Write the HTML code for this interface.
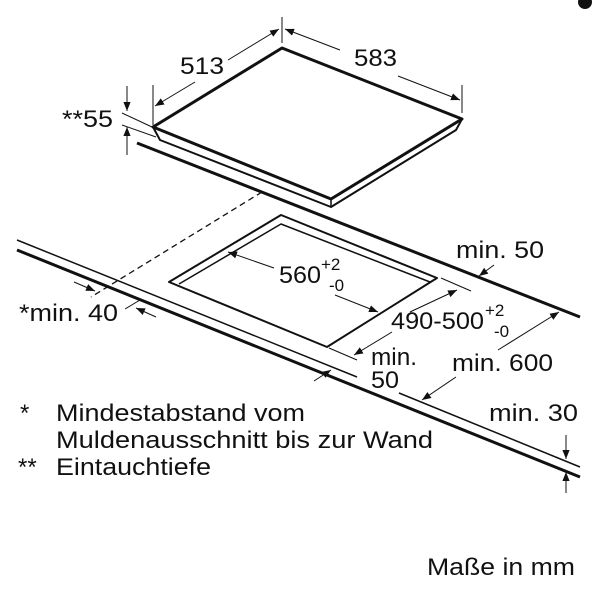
<!DOCTYPE html>
<html><head><meta charset="utf-8"><style>
html,body{margin:0;padding:0;background:#fff;}
svg{display:block;}
text{font-family:"Liberation Sans",sans-serif;fill:#111;}
</style></head><body>
<svg width="594" height="593" viewBox="0 0 594 593">
<defs>
<marker id="ar" viewBox="0 0 10 10" refX="10" refY="5" markerWidth="9" markerHeight="9" orient="auto-start-reverse" markerUnits="userSpaceOnUse"><path d="M0,1 L10,5 L0,9 z" fill="#111"/></marker>
</defs>
<g stroke="#111" fill="none" stroke-linejoin="round">
<g>
<polygon points="282,48 462,119 331,199 153,127" stroke-width="3"/>
<polyline points="153,127 160,140 331,207 456,130 462,119" stroke-width="2"/>
<line x1="331" y1="199" x2="331" y2="207" stroke-width="1.5"/>
</g>
<line x1="137" y1="143" x2="580" y2="317" stroke-width="3"/>
<line x1="262" y1="192" x2="91" y2="297" stroke-width="1.3" stroke-dasharray="6,4"/>
<g>
<polygon points="281,215 437,278 327,347 169,282" stroke-width="2"/>
<polyline points="179,284 281,224 430,282" stroke-width="1.5"/>
</g>
<line x1="17" y1="240" x2="357" y2="377" stroke-width="1.5"/>
<line x1="399" y1="393" x2="580" y2="467" stroke-width="1.5"/>
<line x1="17" y1="250" x2="580" y2="477" stroke-width="3"/>
<line x1="282" y1="17" x2="282" y2="43" stroke-width="1"/>
<line x1="153" y1="85" x2="153" y2="125" stroke-width="1"/>
<line x1="462" y1="85" x2="462" y2="113" stroke-width="1"/>
<line x1="228" y1="60" x2="279" y2="29" stroke-width="1" marker-end="url(#ar)"/>
<line x1="195" y1="82" x2="155" y2="106" stroke-width="1" marker-end="url(#ar)"/>
<line x1="340" y1="50" x2="285" y2="29" stroke-width="1" marker-end="url(#ar)"/>
<line x1="398" y1="76" x2="460" y2="100" stroke-width="1" marker-end="url(#ar)"/>
<line x1="122" y1="113" x2="152" y2="127" stroke-width="1"/>
<line x1="122" y1="125" x2="156" y2="137" stroke-width="1"/>
<line x1="127" y1="86" x2="127" y2="111" stroke-width="1" marker-end="url(#ar)"/>
<line x1="127" y1="155" x2="127" y2="127" stroke-width="1" marker-end="url(#ar)"/>
<line x1="74" y1="282" x2="95" y2="291" stroke-width="1" marker-end="url(#ar)"/>
<line x1="156" y1="317" x2="136" y2="308" stroke-width="1" marker-end="url(#ar)"/>
<line x1="125" y1="309" x2="140" y2="300" stroke-width="1"/>
<line x1="274" y1="268" x2="228" y2="252" stroke-width="1" marker-end="url(#ar)"/>
<line x1="335" y1="295" x2="378" y2="312" stroke-width="1" marker-end="url(#ar)"/>
<line x1="441" y1="278" x2="471" y2="291" stroke-width="1"/>
<line x1="329" y1="348" x2="357" y2="360" stroke-width="1"/>
<line x1="410" y1="312" x2="457" y2="290" stroke-width="1" marker-end="url(#ar)"/>
<line x1="392" y1="332" x2="354" y2="355" stroke-width="1" marker-end="url(#ar)"/>
<line x1="494" y1="265" x2="479" y2="276" stroke-width="1" marker-end="url(#ar)"/>
<line x1="314" y1="381" x2="331" y2="370" stroke-width="1" marker-end="url(#ar)"/>
<line x1="498" y1="350" x2="559" y2="312" stroke-width="1" marker-end="url(#ar)"/>
<line x1="456" y1="377" x2="422" y2="400" stroke-width="1" marker-end="url(#ar)"/>
<line x1="566" y1="435" x2="566" y2="459" stroke-width="1" marker-end="url(#ar)"/>
<line x1="566" y1="493" x2="566" y2="472" stroke-width="1" marker-end="url(#ar)"/>
</g>
<circle cx="585" cy="2" r="8" fill="#111" stroke="#fff" stroke-width="2"/>
<g font-size="24" lengthAdjust="spacingAndGlyphs">
<text x="180" y="74" textLength="44" lengthAdjust="spacingAndGlyphs">513</text>
<text x="354" y="66" textLength="43" lengthAdjust="spacingAndGlyphs">583</text>
<text x="62" y="127" textLength="51" lengthAdjust="spacingAndGlyphs">**55</text>
<text x="279" y="283" textLength="42" lengthAdjust="spacingAndGlyphs">560</text>
<text x="321" y="270" font-size="17">+2</text>
<text x="329" y="291" font-size="17">-0</text>
<text x="391" y="329" textLength="93" lengthAdjust="spacingAndGlyphs">490-500</text>
<text x="485" y="316" font-size="17">+2</text>
<text x="494" y="337" font-size="17">-0</text>
<text x="456" y="258" textLength="88" lengthAdjust="spacingAndGlyphs">min. 50</text>
<text x="19" y="321" textLength="99" lengthAdjust="spacingAndGlyphs">*min. 40</text>
<text x="371" y="365" textLength="46" lengthAdjust="spacingAndGlyphs">min.</text>
<text x="371" y="388" textLength="28" lengthAdjust="spacingAndGlyphs">50</text>
<text x="452" y="371" textLength="101" lengthAdjust="spacingAndGlyphs">min. 600</text>
<text x="489" y="421" textLength="89" lengthAdjust="spacingAndGlyphs">min. 30</text>
<text x="20" y="421">*</text>
<text x="56" y="421" textLength="249" lengthAdjust="spacingAndGlyphs">Mindestabstand vom</text>
<text x="56" y="448" textLength="377" lengthAdjust="spacingAndGlyphs">Muldenausschnitt bis zur Wand</text>
<text x="18" y="475">**</text>
<text x="56" y="475" textLength="155" lengthAdjust="spacingAndGlyphs">Eintauchtiefe</text>
<text x="427" y="575" textLength="148" lengthAdjust="spacingAndGlyphs">Maße in mm</text>
</g>
</svg>
</body></html>
